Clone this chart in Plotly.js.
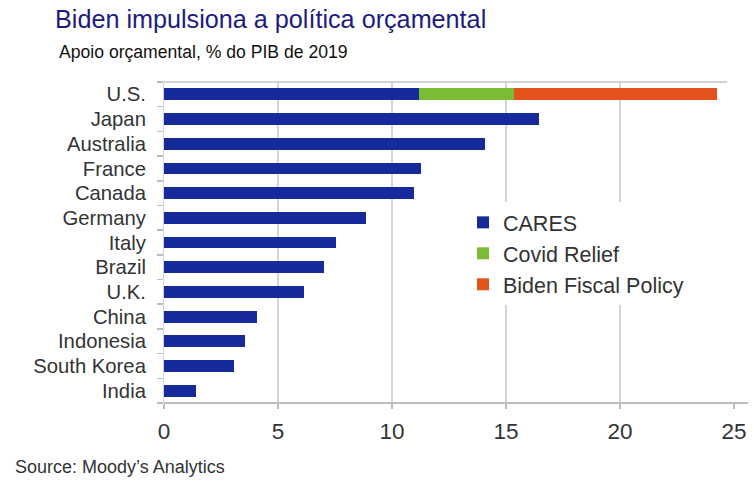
<!DOCTYPE html>
<html>
<head>
<meta charset="utf-8">
<script src="https://cdn.plot.ly/plotly-3.0.1.min.js"></script>
<style>
  html, body { margin: 0; padding: 0; background: #ffffff; }
  #chart { width: 754px; height: 486px; }
</style>
</head>
<body>
<div id="chart"></div>
<script>
// Fiscal support by country, % of 2019 GDP
const countries = ['U.S.', 'Japan', 'Australia', 'France', 'Canada', 'Germany', 'Italy',
                   'Brazil', 'U.K.', 'China', 'Indonesia', 'South Korea', 'India'];
const cares       = [11.2, 16.45, 14.1, 11.25, 10.95, 8.85, 7.55, 7.0, 6.15, 4.1, 3.55, 3.05, 1.4];
const covidRelief = [4.15, null, null, null, null, null, null, null, null, null, null, null, null];
const bidenPolicy = [8.9, null, null, null, null, null, null, null, null, null, null, null, null];
const seriesNames = ['CARES', 'Covid Relief', 'Biden Fiscal Policy'];
const xTicks = [0, 5, 10, 15, 20, 25];
const gridAt = [5, 10, 15, 20];

const colors = ['#162a9b', '#7cbb34', '#e4531c'];
const FONT = 'Liberation Sans, Arial, sans-serif';

const traces = [cares, covidRelief, bidenPolicy].map((vals, i) => ({
  type: 'bar',
  orientation: 'h',
  name: seriesNames[i],
  y: countries,
  x: vals,
  width: 0.48,
  marker: { color: colors[i], line: { width: 0 } },
  hoverinfo: 'skip'
}));

const shapes = gridAt.map(v => ({
  type: 'line', layer: 'below',
  xref: 'x', yref: 'paper', x0: v, x1: v, y0: 0, y1: 1,
  line: { color: '#c6c6c6', width: 1.5 }
}));
// top border of the plot area
shapes.push({
  type: 'line', layer: 'below', xref: 'paper', yref: 'paper',
  x0: 0, x1: 0.988, y0: 1, y1: 1,
  line: { color: '#d2d2d2', width: 2 }
});
// category axis line along the bottom
shapes.push({
  type: 'line', layer: 'above', xref: 'paper', yref: 'paper',
  x0: 0, x1: 1.025, y0: 0, y1: 0,
  line: { color: '#bdbdbd', width: 2 }
});

const layout = {
  width: 754, height: 486,
  margin: { l: 164, r: 20, t: 82, b: 83 },
  paper_bgcolor: '#ffffff', plot_bgcolor: '#ffffff',
  barmode: 'stack',
  bargap: 0,
  showlegend: true,
  font: { family: FONT, color: '#333333' },
  title: {
    text: 'Biden impulsiona a política orçamental',
    font: { family: FONT, size: 25.2, color: '#1c1c80' },
    xref: 'container', yref: 'container',
    x: 55 / 754, xanchor: 'left',
    y: 1 - 19 / 486, yanchor: 'middle'
  },
  xaxis: {
    range: [0, 25],
    tickvals: xTicks,
    ticktext: xTicks.map(String),
    showgrid: false, zeroline: false, showline: false,
    ticks: 'outside', ticklen: 5, tickcolor: '#bdbdbd', tickwidth: 1.5,
    ticklabelstandoff: 3,
    tickfont: { family: FONT, size: 22.5, color: '#333333' },
    fixedrange: true
  },
  yaxis: {
    type: 'category',
    autorange: 'reversed',
    tickmode: 'array',
    tickvals: countries,
    ticktext: countries,
    showgrid: false, zeroline: false,
    showline: true, linecolor: '#d4d4d4', linewidth: 1,
    ticks: 'outside', tickson: 'boundaries', ticklen: 6, tickcolor: '#bdbdbd', tickwidth: 1.5,
    ticklabelstandoff: 13,
    tickfont: { family: FONT, size: 20.3, color: '#333333' },
    fixedrange: true
  },
  legend: {
    x: (463 - 164) / 570, xanchor: 'left',
    y: (403.3 - 202) / 321.3, yanchor: 'top',
    traceorder: 'normal',
    bgcolor: '#ffffff', borderwidth: 0,
    font: { family: FONT, size: 21.5, color: '#333333' }
  },
  shapes: shapes,
  annotations: [
    {
      text: 'Apoio orçamental, % do PIB de 2019',
      xref: 'paper', yref: 'paper',
      x: -107 / 570, xanchor: 'left',
      y: (403.3 - 51.5) / 321.3, yanchor: 'middle',
      showarrow: false,
      font: { family: FONT, size: 17.6, color: '#111111' }
    },
    {
      text: 'Source: Moody\u2019s Analytics',
      xref: 'paper', yref: 'paper',
      x: -151 / 570, xanchor: 'left',
      y: -(467 - 403.3) / 321.3, yanchor: 'middle',
      showarrow: false,
      font: { family: FONT, size: 18, color: '#333333' }
    }
  ]
};

Plotly.newPlot('chart', traces, layout, { displayModeBar: false, staticPlot: true });
</script>
</body>
</html>
